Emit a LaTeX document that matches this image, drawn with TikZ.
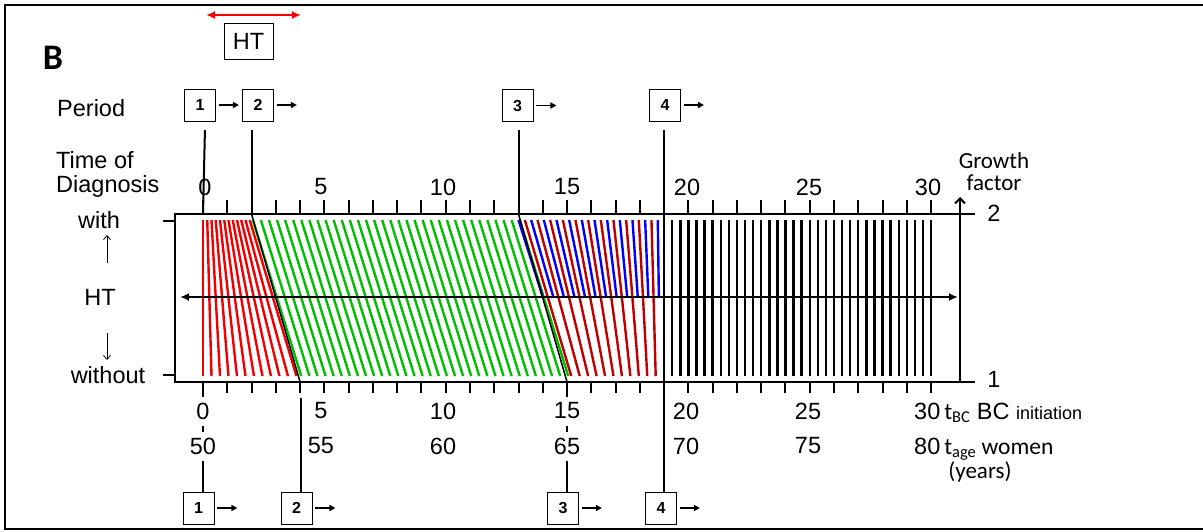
\documentclass[tikz,border=0pt]{standalone}
\usepackage{fontspec}
\setmainfont{Liberation Sans}
\newfontfamily\calfont{Carlito}
\usetikzlibrary{arrows.meta}
\definecolor{cred}{RGB}{240,0,0}
\definecolor{cgreen}{RGB}{0,190,0}
\definecolor{cblue}{RGB}{0,0,255}
\definecolor{cdred}{RGB}{192,0,0}
\begin{document}
\begin{tikzpicture}[x=1pt,y=-1pt,
  lbl/.style={inner sep=0pt, font=\fontsize{23.5}{24}\selectfont},
  clbl/.style={inner sep=0pt, font=\calfont\fontsize{23}{22}\selectfont},
  wlbl/.style={lbl, fill=white, minimum height=29pt},
  pbox/.style={draw, line width=0.9pt, minimum width=31pt, minimum height=32pt, inner sep=0pt, font=\bfseries\fontsize{16}{16}\selectfont},
  parr/.style={line width=1.6pt, -{Triangle[length=6pt,width=6pt]}},
  mline/.style={line width=2pt},
  cline/.style={line width=2.4pt},
  tickln/.style={line width=2pt},
]
\useasboundingbox (0,0) rectangle (1203,531);
% outer frame
\draw[line width=2pt] (1203,5) -- (5,5) -- (5,529) -- (1203,529);

% panel label
\node[inner sep=0pt, font=\calfont\bfseries\fontsize{36}{38}\selectfont] (B) at (53,58) {B};

% HT bar
\coordinate (hta) at (206,15);
\coordinate (htb) at (301,15);
\draw[red, line width=2pt, {Latex[length=9pt,width=8pt]}-{Latex[length=9pt,width=8pt]}] (hta) -- (htb);
\node[draw, line width=0.9pt, minimum width=49pt, minimum height=36pt, lbl] (htbox) at (248.5,41) {HT};

% left labels
\node[lbl, anchor=west] (period) at (57,108) {Period};
\node[lbl, anchor=west, align=left] (tod) at (56,174) {Time of\\Diagnosis};
\node[lbl] (with) at (99,220) {with};
\node[lbl] (htl) at (100,297) {HT};
\node[lbl] (without) at (108,375) {without};
\coordinate (ua) at (107,263); \coordinate (ub) at (107,235);
\coordinate (da) at (107,333); \coordinate (db) at (107,360);
\draw[line width=0.8pt, -{Straight Barb[length=4pt,width=7pt]}] (ua) -- (ub);
\draw[line width=0.8pt, -{Straight Barb[length=4pt,width=7pt]}] (da) -- (db);

% right labels
\node[clbl, align=center] (gf) at (994,172) {Growth\\factor};
\node[lbl] (g2) at (994,213) {2};
\node[lbl] (g1) at (994,379) {1};

% box
\draw[line width=2.5pt] (975,214) -- (175,214) -- (175,382) -- (975,382);
\draw[tickln] (163,221) -- (175,221);
\draw[tickln] (163,375) -- (175,375);

\begin{scope}[shift={(203,0)}, x=24.27pt]
  % ticks
  \foreach \i in {0,...,30} {
    \draw[tickln] (\i,200) -- (\i,214);
    \draw[tickln] (\i,382) -- (\i,393);
  }
  % period 1 (red)
  \foreach \k in {0,...,11}
    \draw[cline, cred] ({\k*0.35/2},220) -- ({\k*0.35},376);
  % period 2 (green)
  \foreach \k in {0,...,33}
    \draw[cline, cgreen] ({2.05+\k/3},220) -- ({4.05+\k/3},376);
  % period 3 (blue / dark red)
  \foreach \k in {0,2,...,22}
    \draw[cline, cblue] ({13+6*\k/23},220) -- ({14+5*\k/23},297);
  \foreach \k in {1,3,...,21}
    \draw[cline, cdred] ({13+6*\k/23},220) -- ({15+4*\k/23},376);
  % period 4 (black)
  \foreach \k in {1,...,33}
    \draw[cline, black] ({19+\k/3},220) -- ({19+\k/3},376);
  % boundaries
  \draw[line width=1.5pt] (2,214) -- (4,382);
  \draw[line width=1.5pt] (13,214) -- (15,382);
  % period marker lines (top)
  \draw[mline] (0.08,130) -- (0,214);
  \draw[mline] (2,130) -- (2,214);
  \draw[mline] (13,130) -- (13,214);
  \draw[line width=2.3pt] (19,130) -- (19,492);
  % period marker lines (bottom)
  \draw[mline] (0,393) -- (0,492);
  \draw[mline] (4.04,398) -- (4.04,492);
  \draw[mline] (15,393) -- (15,492);
\end{scope}

% middle arrow and growth axis
\coordinate (ma) at (180,297); \coordinate (mb) at (958,297);
\draw[line width=2pt, {Latex[length=9pt,width=8pt]}-{Latex[length=9pt,width=8pt]}] (ma) -- (mb);
\coordinate (gfb) at (960,382); \coordinate (gft) at (960,197);
\draw[line width=2pt, -{Straight Barb[length=5pt,width=10pt]}] (gfb) -- (gft);

% top numbers
\node[lbl] (n0) at (205,187) {0};
\node[lbl] (n5) at (321,187) {5};
\node[lbl] (n10) at (443,187) {10};
\node[lbl] (n15) at (567,187) {15};
\node[lbl] (n20) at (687,187) {20};
\node[lbl] (n25) at (809,187) {25};
\node[lbl] (n30) at (928,187) {30};

% bottom numbers
\node[wlbl] (b0) at (203,411) {0};
\node[lbl] (b5) at (321,411) {5};
\node[lbl] (b10) at (443,411) {10};
\node[wlbl] (b15) at (567,411) {15};
\node[lbl] (b20) at (686,411) {20};
\node[lbl] (b25) at (808,411) {25};
\node[wlbl] (a50) at (203,446) {50};
\node[lbl] (a55) at (321,446) {55};
\node[lbl] (a60) at (443,446) {60};
\node[wlbl] (a65) at (567,446) {65};
\node[lbl] (a70) at (686,446) {70};
\node[lbl] (a75) at (808,446) {75};
\node[lbl, anchor=base west] (tbc) at (914,419) {30\,{\calfont t\textsubscript{BC}} BC {\fontsize{18}{18}\selectfont initiation}};
\node[lbl, anchor=base west] (tage) at (914,454) {80\,{\calfont t\textsubscript{age} women}};
\node[clbl] (yrs) at (980,472) {(years)};

% period boxes (top)
\node[pbox] (t1) at (200,105) {1};
\node[pbox] (t2) at (258,105) {2};
\node[pbox] (t3) at (517.5,105.5) {3};
\node[pbox] (t4) at (665,105) {4};
\foreach \n in {t1,t2,t3,t4}
  \draw[parr] ([xshift=3pt]\n.east) -- ++(20,0);

% period boxes (bottom)
\node[pbox] (p1) at (198.5,508) {1};
\node[pbox] (p2) at (296.5,508) {2};
\node[pbox] (p3) at (563,508) {3};
\node[pbox] (p4) at (661,508) {4};
\foreach \n in {p1,p2,p3,p4}
  \draw[parr] ([xshift=3pt]\n.east) -- ++(20,0);
\end{tikzpicture}
\end{document}
